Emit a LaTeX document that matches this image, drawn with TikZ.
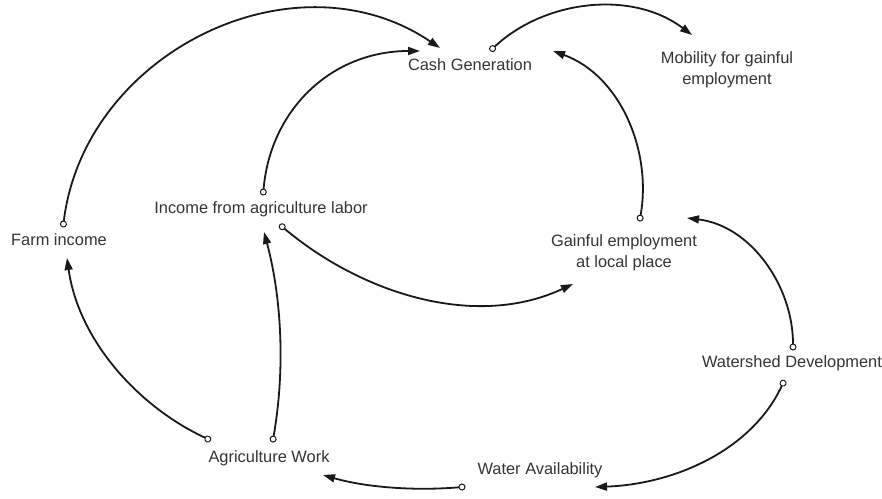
\documentclass[tikz,border=0pt]{standalone}
\usepackage{fontspec}
\setmainfont{Liberation Sans}
\usetikzlibrary{arrows.meta}

\tikzset{
    var/.style={font=\fontsize{16.4}{21}\selectfont, text=black!80, inner sep=0pt, align=center},
    link/.style={line width=1.8pt, color=black!90,
        {Circle[open,length=7pt,line width=1pt]}-{Triangle[length=12pt,width=8pt]}}
}

\begin{document}
\begin{tikzpicture}[x=1pt,y=1pt]
    \useasboundingbox (0,0) rectangle (882,498);

    % variables
    \node[var] (cash) at (470,433) {Cash Generation};
    \node[var] (mobility) at (727,428.5) {Mobility for gainful\\employment};
    \node[var] (farm) at (59,258) {Farm income};
    \node[var] (labor) at (261,289) {Income from agriculture labor};
    \node[var] (local) at (624,245.5) {Gainful employment\\at local place};
    \node[var] (shed) at (792,135) {Watershed Development};
    \node[var] (water) at (540,28) {Water Availability};
    \node[var] (work) at (269,40) {Agriculture Work};

    % causal links
    \draw[link] ([shift={(4,12.5)}]farm.center) to[out=83,in=146,looseness=1.08] ([shift={(-30,17)}]cash.center);
    \draw[link] ([shift={(2,13.5)}]labor.center) to[out=85,in=180,looseness=1.05] ([shift={(-50,14)}]cash.center);
    \draw[link] ([shift={(20,14)}]cash.center) to[out=43,in=143,looseness=0.95] ([shift={(-35,34.5)}]mobility.center);
    \draw[link] ([shift={(15.5,31)}]local.center) to[out=80,in=-20,looseness=0.96] ([shift={(83,14)}]cash.center);
    \draw[link] ([shift={(18.5,-15.5)}]labor.center) to[out=-40,in=205,looseness=0.92] ([shift={(-51,-31.5)}]local.center);
    \draw[link] ([shift={(1,12.5)}]shed.center) to[out=90,in=-7,looseness=0.97] ([shift={(63,34.5)}]local.center);
    \draw[link] ([shift={(-7.5,-17)}]shed.center) to[out=245,in=2,looseness=0.92] ([shift={(55,-17)}]water.center);
    \draw[link] ([shift={(-74.5,-16.7)}]water.center) to[out=185,in=-16,looseness=0.85] ([shift={(54,-17)}]work.center);
    \draw[link] ([shift={(-58,17.5)}]work.center) to[out=155,in=-82,looseness=0.9] ([shift={(8,-18)}]farm.center);
    \draw[link] ([shift={(3.5,15.5)}]work.center) to[out=80,in=-75,looseness=0.86] ([shift={(3,-23)}]labor.center);
\end{tikzpicture}
\end{document}
